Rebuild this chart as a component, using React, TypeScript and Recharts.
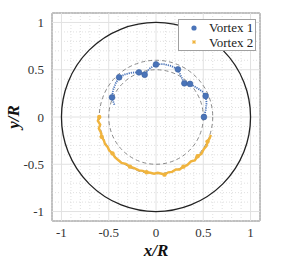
import React from 'react';
import {
  ScatterChart,
  Scatter,
  XAxis,
  YAxis,
  ReferenceLine,
  ReferenceDot,
  ReferenceArea,
  Legend,
} from 'recharts';

// ---- data ----
const axisTicks = [-1, -0.5, 0, 0.5, 1];
const minorGrid = [-1.1, -0.9, -0.8, -0.7, -0.6, -0.4, -0.3, -0.2, -0.1, 0.1, 0.2, 0.3, 0.4, 0.6, 0.7, 0.8, 0.9, 1.1];
const majorGrid = [-1, -0.5, 0, 0.5, 1];
const circleRadii = [1, 0.6, 0.5];

const vortex1Trail = [
  { x: -0.44, y: 0.13 },
  { x: -0.455, y: 0.17 },
  { x: -0.465, y: 0.208 },
  { x: -0.455, y: 0.28 },
  { x: -0.425, y: 0.36 },
  { x: -0.39, y: 0.42 },
  { x: -0.33, y: 0.45 },
  { x: -0.25, y: 0.47 },
  { x: -0.18, y: 0.472 },
  { x: -0.12, y: 0.447 },
  { x: -0.07, y: 0.51 },
  { x: 0.0, y: 0.556 },
  { x: 0.08, y: 0.56 },
  { x: 0.16, y: 0.54 },
  { x: 0.232, y: 0.504 },
  { x: 0.27, y: 0.42 },
  { x: 0.3, y: 0.356 },
  { x: 0.36, y: 0.35 },
  { x: 0.43, y: 0.31 },
  { x: 0.49, y: 0.27 },
  { x: 0.525, y: 0.222 },
  { x: 0.535, y: 0.15 },
  { x: 0.525, y: 0.07 },
  { x: 0.507, y: 0.0 },
];

const vortex1Markers = [
  { x: -0.465, y: 0.208 },
  { x: -0.39, y: 0.42 },
  { x: -0.18, y: 0.472 },
  { x: -0.12, y: 0.447 },
  { x: 0.0, y: 0.556 },
  { x: 0.232, y: 0.504 },
  { x: 0.3, y: 0.356 },
  { x: 0.36, y: 0.35 },
  { x: 0.525, y: 0.222 },
  { x: 0.507, y: 0.0 },
];

const vortex2Trail = [
  { x: -0.6, y: 0.0 },
  { x: -0.615, y: -0.04 },
  { x: -0.59, y: -0.08 },
  { x: -0.605, y: -0.12 },
  { x: -0.58, y: -0.17 },
  { x: -0.575, y: -0.21 },
  { x: -0.55, y: -0.25 },
  { x: -0.54, y: -0.285 },
  { x: -0.51, y: -0.32 },
  { x: -0.495, y: -0.355 },
  { x: -0.46, y: -0.385 },
  { x: -0.435, y: -0.425 },
  { x: -0.4, y: -0.455 },
  { x: -0.365, y: -0.485 },
  { x: -0.32, y: -0.495 },
  { x: -0.275, y: -0.525 },
  { x: -0.23, y: -0.54 },
  { x: -0.18, y: -0.565 },
  { x: -0.14, y: -0.57 },
  { x: -0.1, y: -0.585 },
  { x: -0.06, y: -0.59 },
  { x: -0.02, y: -0.6 },
  { x: 0.02, y: -0.59 },
  { x: 0.06, y: -0.6 },
  { x: 0.09, y: -0.61 },
  { x: 0.13, y: -0.585 },
  { x: 0.17, y: -0.58 },
  { x: 0.21, y: -0.555 },
  { x: 0.25, y: -0.555 },
  { x: 0.29, y: -0.525 },
  { x: 0.33, y: -0.51 },
  { x: 0.37, y: -0.47 },
  { x: 0.41, y: -0.46 },
  { x: 0.44, y: -0.415 },
  { x: 0.48, y: -0.39 },
  { x: 0.505, y: -0.34 },
  { x: 0.535, y: -0.305 },
  { x: 0.545, y: -0.26 },
  { x: 0.568, y: -0.225 },
  { x: 0.58, y: -0.19 },
];

const vortex2Markers = [
  { x: -0.6, y: 0.0 },
  { x: -0.575, y: -0.21 },
  { x: -0.46, y: -0.385 },
  { x: -0.275, y: -0.525 },
  { x: -0.1, y: -0.585 },
  { x: 0.09, y: -0.61 },
  { x: 0.29, y: -0.525 },
  { x: 0.44, y: -0.415 },
  { x: 0.545, y: -0.26 },
];

// ---- layout / style ----
const W = 291;
const H = 268;
const DOMAIN: [number, number] = [-1.1, 1.1];
const PLOT_W = 208;
const PX_PER_UNIT = PLOT_W / (DOMAIN[1] - DOMAIN[0]);
const SERIF = 'Liberation Serif';
const BLUE = '#4A74B9';
const ORANGE = '#F0B43E';

const NoShape = () => <g />;

const BlueDot = (props: any) => (
  <circle cx={props.cx} cy={props.cy} r={2.9} fill={BLUE} stroke="#3B5F9E" strokeWidth={0.6} />
);

const OrangeDot = (props: any) => (
  <circle cx={props.cx} cy={props.cy} r={2.2} fill={ORANGE} />
);

const XTick = (props: any) => (
  <text
    x={props.x}
    y={props.y + 9}
    textAnchor="middle"
    style={{ fontFamily: SERIF, fontSize: 13, fill: '#333' }}
  >
    {String(props.payload.value)}
  </text>
);

const YTick = (props: any) => (
  <text
    x={props.x}
    y={props.y + 4.5}
    textAnchor="end"
    style={{ fontFamily: SERIF, fontSize: 13, fill: '#333' }}
  >
    {String(props.payload.value)}
  </text>
);

const XLabel = (props: any) => {
  const vb = props.viewBox || {};
  return (
    <text
      x={vb.x + vb.width / 2}
      y={256}
      textAnchor="middle"
      style={{ fontFamily: SERIF, fontStyle: 'italic', fontWeight: 'bold', fontSize: 17, fill: '#111' }}
    >
      x/R
    </text>
  );
};

const YLabel = (props: any) => {
  const vb = props.viewBox || {};
  const cy = vb.y + vb.height / 2;
  return (
    <text
      x={19}
      y={cy}
      transform={`rotate(-90 19 ${cy})`}
      textAnchor="middle"
      style={{ fontFamily: SERIF, fontStyle: 'italic', fontWeight: 'bold', fontSize: 17, fill: '#111' }}
    >
      y/R
    </text>
  );
};

const LegendBox = () => (
  <div
    style={{
      width: 78,
      height: 32,
      border: '1px solid #a0a0a0',
      background: '#fff',
      boxSizing: 'border-box',
      position: 'relative',
      fontFamily: SERIF,
      fontSize: 13,
      color: '#222',
    }}
  >
    <svg width={20} height={30} style={{ position: 'absolute', left: 5, top: 0 }}>
      <circle cx={10} cy={8} r={2.6} fill={BLUE} />
      <g stroke={ORANGE} strokeWidth={1}>
        <line x1={8} y1={22} x2={12} y2={22} />
        <line x1={10} y1={20} x2={10} y2={24} />
        <line x1={8.5} y1={20.5} x2={11.5} y2={23.5} />
        <line x1={11.5} y1={20.5} x2={8.5} y2={23.5} />
      </g>
    </svg>
    <div style={{ position: 'absolute', left: 30, top: 0, lineHeight: '15px', whiteSpace: 'nowrap' }}>
      Vortex 1
    </div>
    <div style={{ position: 'absolute', left: 30, top: 15, lineHeight: '15px', whiteSpace: 'nowrap' }}>
      Vortex 2
    </div>
  </div>
);

export default function App() {
  return (
    <div style={{ position: 'absolute', left: 0, top: 0, width: W, height: H, background: '#fff' }}>
      <ScatterChart
        width={W}
        height={H}
        margin={{ top: 13, right: 31, bottom: 17, left: 12 }}
      >
        <XAxis
          type="number"
          dataKey="x"
          domain={DOMAIN}
          ticks={axisTicks}
          allowDataOverflow
          height={30}
          tickLine={false}
          tickSize={0}
          tickMargin={7}
          axisLine={false}
          tick={<XTick />}
          label={<XLabel />}
        />
        <YAxis
          type="number"
          dataKey="y"
          domain={DOMAIN}
          ticks={axisTicks}
          allowDataOverflow
          width={40}
          tickLine={false}
          tickSize={0}
          tickMargin={8}
          axisLine={false}
          tick={<YTick />}
          label={<YLabel />}
        />
        {minorGrid.map((v) => (
          <ReferenceLine key={`mx${v}`} x={v} stroke="#d8d8d8" strokeWidth={0.8} strokeDasharray="1 2" />
        ))}
        {minorGrid.map((v) => (
          <ReferenceLine key={`my${v}`} y={v} stroke="#d8d8d8" strokeWidth={0.8} strokeDasharray="1 2" />
        ))}
        {majorGrid.map((v) => (
          <ReferenceLine key={`Mx${v}`} x={v} stroke="#e2e2e2" strokeWidth={1} />
        ))}
        {majorGrid.map((v) => (
          <ReferenceLine key={`My${v}`} y={v} stroke="#e2e2e2" strokeWidth={1} />
        ))}
        <ReferenceArea
          x1={DOMAIN[0]}
          x2={DOMAIN[1]}
          y1={DOMAIN[0]}
          y2={DOMAIN[1]}
          fill="none"
          fillOpacity={0}
          stroke="#808080"
          strokeWidth={1}
        />
        {circleRadii.map((r, i) => (
          <ReferenceDot
            key={`c${r}`}
            x={0}
            y={0}
            r={r * PX_PER_UNIT}
            fill="none"
            stroke={i === 0 ? '#222' : '#8a8a8a'}
            strokeWidth={i === 0 ? 1.3 : 1}
            strokeDasharray={i === 0 ? undefined : '4 3'}
          />
        ))}
        <Scatter
          name="Vortex 2 trail"
          data={vortex2Trail}
          line={{ stroke: ORANGE, strokeWidth: 2.4 }}
          lineType="joint"
          shape={NoShape}
          isAnimationActive={false}
          legendType="none"
        />
        <Scatter
          name="Vortex 2"
          data={vortex2Markers}
          shape={OrangeDot}
          isAnimationActive={false}
          legendType="none"
        />
        <Scatter
          name="Vortex 1 trail"
          data={vortex1Trail}
          line={{ stroke: BLUE, strokeWidth: 1.8, strokeDasharray: '1.2 1' }}
          lineType="joint"
          shape={NoShape}
          isAnimationActive={false}
          legendType="none"
        />
        <Scatter
          name="Vortex 1"
          data={vortex1Markers}
          shape={BlueDot}
          isAnimationActive={false}
          legendType="none"
        />
        <Legend
          layout="vertical"
          align="center"
          verticalAlign="middle"
          content={<LegendBox />}
          wrapperStyle={{ position: 'absolute', left: 178, top: 19, width: 78, height: 32 }}
        />
      </ScatterChart>
    </div>
  );
}
